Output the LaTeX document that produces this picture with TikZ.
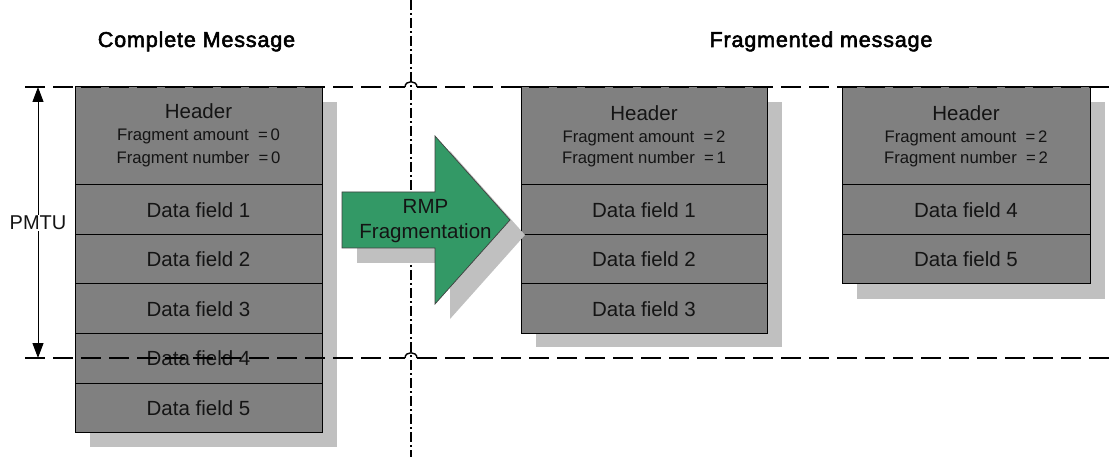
\documentclass[tikz,border=0pt]{standalone}
\usepackage{fontspec}
\setmainfont{Liberation Sans}
\newfontfamily\titlefont[LetterSpace=4,FakeBold=2.5]{Liberation Sans}
\usetikzlibrary{calc,arrows.meta}
\definecolor{cellgray}{RGB}{128,128,128}
\definecolor{shadowgray}{RGB}{192,192,192}
\definecolor{arrowgreen}{RGB}{51,153,102}
\definecolor{txt}{RGB}{20,20,20}
\begin{document}
\begin{tikzpicture}[x=1pt,y=-1pt,
  cell/.style={draw=black, line width=1pt, fill=cellgray, inner sep=0pt, outer sep=0pt, text=txt, font=\fontsize{20.5}{24}\selectfont},
  small/.style={text=txt, inner sep=0pt, font=\fontsize{16.7}{19}\selectfont},
  big/.style={text=txt, inner sep=0pt, font=\fontsize{20.5}{24}\selectfont},
  title/.style={inner sep=0pt, anchor=base, font=\titlefont\fontsize{21.5}{26}\selectfont},
  shadowfill/.style={fill=shadowgray, draw=none},
  limitline/.style={line width=1.9pt, dash pattern=on 20pt off 8pt},
  axisline/.style={line width=1.4pt, dash pattern=on 10pt off 3pt on 2pt off 3pt},
  hopline/.style={line width=1.4pt},
]
\useasboundingbox[fill=white] (0,0) rectangle (1109,457);

% ---------- titles
\node[title] (t1) at (196.5,47) {Complete Message};
\node[title] (t2) at (821,47) {Fragmented message};

% ---------- left block
\coordinate (Lsh1) at (90,102);
\coordinate (Lsh2) at (337,447);
\fill[shadowfill] (Lsh1) rectangle (Lsh2);
\node[cell, minimum width=247pt, minimum height=98pt] (Lh) at (198.5,136) {};
\node[cell, minimum width=247pt, minimum height=49.5pt] (L1) at (198.5,209.75) {Data field 1};
\node[cell, minimum width=247pt, minimum height=49.5pt] (L2) at (198.5,259.25) {Data field 2};
\node[cell, minimum width=247pt, minimum height=49.5pt] (L3) at (198.5,308.75) {Data field 3};
\node[cell, minimum width=247pt, minimum height=49.5pt] (L4) at (198.5,358.25) {Data field 4};
\node[cell, minimum width=247pt, minimum height=49.5pt] (L5) at (198.5,407.75) {Data field 5};
\node[big] (Lht) at ($(Lh.north)+(0,24)$) {Header};
\node[small] (Lha) at ($(Lh.north)+(0,49)$) {Fragment amount\hspace{0.55em}=\,0};
\node[small] (Lhn) at ($(Lh.north)+(0,72)$) {Fragment number\hspace{0.55em}=\,0};

% ---------- middle block
\coordinate (Msh1) at (536,102);
\coordinate (Msh2) at (782,347);
\fill[shadowfill] (Msh1) rectangle (Msh2);
\node[cell, minimum width=246pt, minimum height=98pt] (Mh) at (644,136) {};
\node[cell, minimum width=246pt, minimum height=49.5pt] (M1) at (644,209.75) {Data field 1};
\node[cell, minimum width=246pt, minimum height=49.5pt] (M2) at (644,259.25) {Data field 2};
\node[cell, minimum width=246pt, minimum height=49.5pt] (M3) at (644,308.75) {Data field 3};
\node[big] (Mht) at ($(Mh.north)+(0,26)$) {Header};
\node[small] (Mha) at ($(Mh.north)+(0,51)$) {Fragment amount\hspace{0.55em}=\,2};
\node[small] (Mhn) at ($(Mh.north)+(0,72)$) {Fragment number\hspace{0.55em}=\,1};

% ---------- right block
\coordinate (Rsh1) at (857,102);
\coordinate (Rsh2) at (1105,299);
\fill[shadowfill] (Rsh1) rectangle (Rsh2);
\node[cell, minimum width=248pt, minimum height=98pt] (Rh) at (966,136) {};
\node[cell, minimum width=248pt, minimum height=49.5pt] (R4) at (966,209.75) {Data field 4};
\node[cell, minimum width=248pt, minimum height=49.5pt] (R5) at (966,259.25) {Data field 5};
\node[big] (Rht) at ($(Rh.north)+(0,26)$) {Header};
\node[small] (Rha) at ($(Rh.north)+(0,51)$) {Fragment amount\hspace{0.55em}=\,2};
\node[small] (Rhn) at ($(Rh.north)+(0,72)$) {Fragment number\hspace{0.55em}=\,2};

% ---------- vertical separator
\coordinate (vt) at (411,0);
\coordinate (vb) at (411,457);
\draw[axisline] (vt) -- (vb);

% ---------- green arrow
\fill[shadowfill, shift={(15,15)}] (342,192) -- (435,192) -- (435,136) -- (510,220) -- (435,304) -- (435,248) -- (342,248) -- cycle;
\filldraw[fill=arrowgreen, draw=black!75, line width=0.7pt] (342,192) -- (435,192) -- (435,136) -- (510,220) -- (435,304) -- (435,248) -- (342,248) -- cycle;
\node[text=txt, inner sep=0pt, align=center, font=\fontsize{20.5}{25}\selectfont] (rmp) at (425.5,221) {RMP\\Fragmentation};

% ---------- PMTU limit lines
\coordinate (tl) at (25,87);
\coordinate (thl) at (405,87);
\coordinate (thr) at (417,87);
\coordinate (tr) at (1109,87);
\coordinate (bl) at (25,358);
\coordinate (bhl) at (405,358);
\coordinate (bhr) at (417,358);
\coordinate (br) at (1109,358);
\draw[limitline] (tl) -- (thl);
\draw[hopline] (thl) .. controls +(0,-7) and +(0,-7) .. (thr);
\draw[limitline] (thr) -- (tr);
\draw[limitline] (bl) -- (bhl);
\draw[hopline] (bhl) .. controls +(0,-7) and +(0,-7) .. (bhr);
\draw[limitline] (bhr) -- (br);

% ---------- PMTU dimension arrow
\coordinate (pt) at (38,87);
\coordinate (pb) at (38,358);
\draw[line width=1pt, {Triangle[length=15pt,width=11pt]}-{Triangle[length=15pt,width=11pt]}] (pt) -- (pb);
\node[fill=white, inner sep=1pt, text=txt, font=\fontsize{20}{24}\selectfont] (pmtu) at (38,223) {PMTU};
\end{tikzpicture}
\end{document}
